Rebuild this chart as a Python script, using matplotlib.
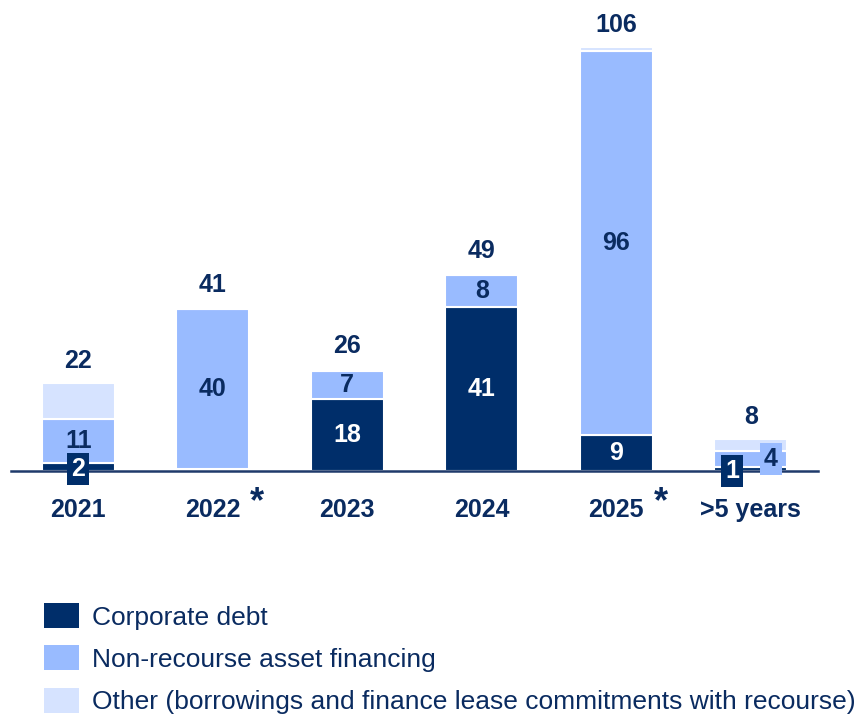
import numpy as np
import matplotlib
matplotlib.use("Agg")
import matplotlib.pyplot as plt
from matplotlib.patches import Rectangle

## Data
years = ["2021", "2022", "2023", "2024", "2025", ">5 years"]
starred = [False, True, False, False, True, False]
corporate = [2, 0.5, 18, 41, 9, 1]
nonrecourse = [11, 40, 7, 8, 96, 4]
other = [9, 0.5, 0.6, 0.5, 1.0, 3]
corp_labels = ["2", "", "18", "41", "9", "1"]
nonrec_labels = ["11", "40", "7", "8", "96", "4"]
totals = ["22", "41", "26", "49", "106", "8"]
series_names = ["Corporate debt", "Non-recourse asset financing",
                "Other (borrowings and finance lease commitments with recourse)"]

## Style
NAVY = "#002E6A"
MID = "#99BBFF"
LIGHT = "#D6E3FF"
TXT = "#0A2B60"
plt.rcParams["font.family"] = ["Liberation Sans", "DejaVu Sans"]

W, H = 860, 714
fig = plt.figure(figsize=(W / 100, H / 100), dpi=100)
# axes: x from 11px to 818px, y=0 at 471px, y=110 at 31px
ax = fig.add_axes([11 / W, (H - 471) / H, 807 / W, 440 / H])
ax.set_xlim(-0.5, 5.5)
ax.set_ylim(0, 110)

x = np.arange(len(years))
bw = 0.54
corp = np.array(corporate, dtype=float)
nonr = np.array(nonrecourse, dtype=float)
oth = np.array(other, dtype=float)

ax.bar(x, corp, bw, color=NAVY, edgecolor="white", linewidth=1.5, zorder=2)
ax.bar(x, nonr, bw, bottom=corp, color=MID, edgecolor="white", linewidth=1.5, zorder=2)
ax.bar(x, oth, bw, bottom=corp + nonr, color=LIGHT, edgecolor="white", linewidth=1.5, zorder=2)

for s in ["top", "left", "right"]:
    ax.spines[s].set_visible(False)
ax.spines["bottom"].set_color("#1F3A6B")
ax.spines["bottom"].set_linewidth(1.8)
ax.spines["bottom"].set_zorder(3)
ax.set_xticks([])
ax.set_yticks([])

lbl = dict(fontsize=18, fontweight="bold", ha="center", va="center", zorder=5)

## segment labels; small segments get a boxed label
for i in range(len(years)):
    if corp_labels[i]:
        if corp[i] < 5:
            dx = -0.14 if nonr[i] < 6 else 0.0
            ax.text(x[i] + dx, corp[i] / 2 - 0.5, corp_labels[i], color="white",
                    bbox=dict(boxstyle="square,pad=0.17", fc=NAVY, ec="none"), **lbl)
        else:
            ax.text(x[i], corp[i] / 2, corp_labels[i], color="white", **lbl)
    if nonr[i] < 6:
        ax.text(x[i] + 0.15, corp[i] + nonr[i] / 2, nonrec_labels[i], color=TXT,
                bbox=dict(boxstyle="square,pad=0.17", fc=MID, ec="none"), **lbl)
    else:
        ax.text(x[i], corp[i] + nonr[i] / 2, nonrec_labels[i], color=TXT, **lbl)
    top = corp[i] + nonr[i] + oth[i]
    ax.annotate(totals[i], (x[i], top), xytext=(0, 16), textcoords="offset points",
                color=TXT, **lbl)
    ax.text(x[i], -9.75, years[i], color=TXT, clip_on=False, **lbl)
    if starred[i]:
        ax.annotate("*", (x[i], -9.75), xytext=(32, 5), textcoords="offset points",
                    color=TXT, fontsize=26, fontweight="bold", ha="center", va="center",
                    annotation_clip=False)

## Legend drawn in figure pixels
for k, (name, col) in enumerate(zip(series_names, [NAVY, MID, LIGHT])):
    yc = 615 + 42.5 * k
    fig.add_artist(Rectangle((44 / W, (H - yc - 12.5) / H), 35 / W, 25 / H,
                             transform=fig.transFigure, facecolor=col, edgecolor="none"))
    fig.text(92 / W, (H - yc - 2.5) / H, name, fontsize=19, color=TXT, ha="left", va="center")

fig.savefig("out.png", dpi=100)
